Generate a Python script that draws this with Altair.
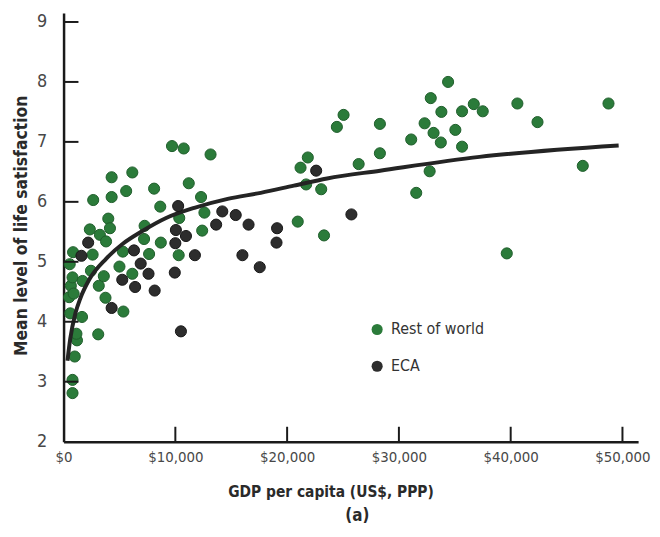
import altair as alt
import pandas as pd

# ---- data ----
row_gdp = [800, 800, 1000, 1200, 1150, 1650, 600, 500, 650, 800, 550, 850,
           3100, 3750, 3150, 5350, 3600, 2600, 5300, 7650, 5000, 6150,
           2350, 3250, 3800, 4000, 4150, 7250, 7200, 8700, 2650, 4300,
           5600, 4300, 6150, 8100, 8650, 9700, 10750, 13150, 11200, 12300,
           12600, 10350, 12400, 10300, 2450, 1700, 900,
           26400, 21850, 21200, 21700, 23050, 20950, 23300, 25050, 24450,
           28300, 28300, 34400, 32850, 33800, 35650, 36700, 37500, 32300,
           33100, 35050, 33750, 35650, 31100, 32750, 31550, 40600, 42400,
           48750, 46450, 39650]
row_ls = [2.81, 3.03, 3.42, 3.69, 3.80, 4.08, 4.14, 4.41, 4.60, 4.74, 4.96, 5.16,
          3.79, 4.40, 4.60, 4.17, 4.76, 5.12, 5.17, 5.13, 4.92, 4.80,
          5.54, 5.45, 5.34, 5.72, 5.56, 5.60, 5.38, 5.32, 6.03, 6.08,
          6.18, 6.41, 6.49, 6.22, 5.92, 6.93, 6.89, 6.79, 6.31, 6.08,
          5.82, 5.73, 5.52, 5.11, 4.85, 4.68, 4.47,
          6.63, 6.74, 6.57, 6.29, 6.21, 5.67, 5.44, 7.45, 7.25,
          7.30, 6.81, 8.00, 7.73, 7.50, 7.51, 7.63, 7.51, 7.31,
          7.15, 7.20, 6.99, 6.92, 7.04, 6.51, 6.15, 7.64, 7.33,
          7.64, 6.60, 5.14]

eca_gdp = [2200, 1600, 6300, 6900, 7600, 5250, 6400, 8150, 4300, 10250,
           10050, 10950, 10000, 11750, 9950, 10500, 14200, 15400, 13650,
           16550, 16000, 17550, 19100, 19050, 25750, 22600]
eca_ls = [5.32, 5.10, 5.19, 4.97, 4.80, 4.70, 4.58, 4.52, 4.23, 5.93,
          5.53, 5.43, 5.31, 5.11, 4.82, 3.84, 5.84, 5.78, 5.62,
          5.62, 5.11, 4.91, 5.56, 5.32, 5.79, 6.52]

fit_gdp = [350, 600, 1060, 1520, 2285, 3800, 5300, 6940, 9175, 11700,
           14680, 17640, 20600, 23580, 28320, 37210, 49660]
fit_ls = [3.35, 3.72, 4.14, 4.40, 4.70, 5.05, 5.30, 5.50, 5.73, 5.90,
          6.05, 6.15, 6.27, 6.39, 6.52, 6.75, 6.94]

groups = ["Rest of world", "ECA"]
group_colors = ["#2b7b3a", "#2d2d2d"]
x_tick_values = [0, 10000, 20000, 30000, 40000, 50000]
y_tick_values = [2, 3, 4, 5, 6, 7, 8, 9]
x_title = "GDP per capita (US$, PPP)"
y_title = "Mean level of life satisfaction"
caption = "(a)"

# ---- tables ----
pts = pd.DataFrame({
    "gdp": row_gdp + eca_gdp,
    "ls": row_ls + eca_ls,
    "group": [groups[0]] * len(row_gdp) + [groups[1]] * len(eca_gdp),
})
fit = pd.DataFrame({"gdp": fit_gdp, "ls": fit_ls})
xt = pd.DataFrame({"gdp": x_tick_values[1:]})
yt = pd.DataFrame({"ls": y_tick_values[1:]})
cap = pd.DataFrame({"t": [caption]})

FONT = "DejaVu Sans Condensed, Liberation Sans Narrow, Roboto, sans-serif"
W, H = 579, 432

xs = alt.Scale(domain=[0, 51400], nice=False, zero=False)
ys = alt.Scale(domain=[2, 9.15], nice=False, zero=False)

color = alt.Color(
    "group:N",
    scale=alt.Scale(domain=groups, range=group_colors),
    legend=alt.Legend(
        title=None, orient="none", legendX=308, legendY=311,
        symbolType="circle", symbolSize=125, symbolStrokeWidth=0,
        labelFont=FONT, labelFontSize=16, labelColor="#333333",
        labelOffset=6, rowPadding=21, padding=0,
    ),
)

x_axis = alt.Axis(
    values=x_tick_values, format="$,.0f", grid=False, ticks=False, tickSize=0,
    labelFlush=False, labelPadding=8, labelFont=FONT, labelFontSize=15,
    labelColor="#484848", domainColor="#1a1a1a", domainWidth=2.5,
    title=x_title, titleFont=FONT, titleFontSize=15.5, titleFontWeight="bold",
    titleColor="#2a2a2a", titleX=269, titleY=50, titleBaseline="middle",
)
y_axis = alt.Axis(
    values=y_tick_values, format="d", grid=False, ticks=False, tickSize=0,
    labelPadding=17, labelFont=FONT, labelFontSize=18,
    labelColor="#484848", domainColor="#1a1a1a", domainWidth=2.5,
    title=y_title, titleFont=FONT, titleFontSize=17.5, titleFontWeight="bold",
    titleColor="#2a2a2a", titleX=-42, titleY=214, titleBaseline="middle",
)

X = alt.X("gdp:Q", scale=xs, axis=x_axis)
Y = alt.Y("ls:Q", scale=ys, axis=y_axis)

base = alt.Chart(pts)

green = base.transform_filter(alt.datum.group == groups[0]).mark_circle(
    size=125, opacity=1, stroke="#1f5e2b", strokeWidth=1
).encode(x=X, y=Y, color=color)

black = base.transform_filter(alt.datum.group == groups[1]).mark_circle(
    size=125, opacity=1, stroke="#161616", strokeWidth=1
).encode(x=X, y=Y, color=color)

curve = alt.Chart(fit).mark_line(
    color="#242424", strokeWidth=4, interpolate="monotone"
).encode(x=X, y=Y)

xticks = alt.Chart(xt).mark_rule(color="#1a1a1a", strokeWidth=2).encode(
    x=X, y=alt.value(H), y2=alt.value(H - 15),
)
yticks = alt.Chart(yt).mark_rule(color="#1a1a1a", strokeWidth=2).encode(
    y=Y, x=alt.value(0), x2=alt.value(15),
)

cap_text = alt.Chart(cap).mark_text(
    font=FONT, fontSize=17, fontWeight="bold", color="#2a2a2a",
    align="center", baseline="middle",
).encode(text="t:N", x=alt.value(296), y=alt.value(507))

chart = alt.layer(green, curve, black, xticks, yticks, cap_text).properties(
    width=W, height=H,
    autosize=alt.AutoSizeParams(type="none"),
    padding={"left": 56, "top": 3, "right": 14, "bottom": 86},
).configure(background="white").configure_view(stroke=None)

chart.save("out.html", embed_options={"renderer": "svg", "actions": False})
